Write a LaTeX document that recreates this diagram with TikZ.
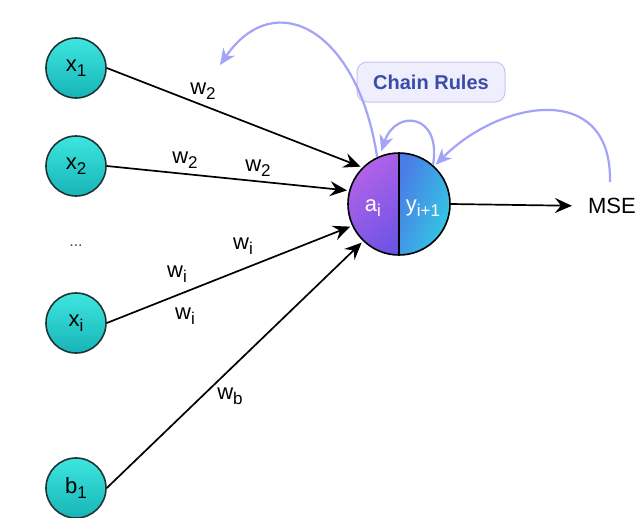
\documentclass[tikz,border=0pt]{standalone}
\usepackage{fontspec}
\setmainfont{Liberation Sans}
\usetikzlibrary{arrows.meta}

\definecolor{tealtop}{HTML}{3EE6DF}
\definecolor{tealbot}{HTML}{17B4B7}
\definecolor{inkdark}{HTML}{1F3535}
\definecolor{chainblue}{HTML}{A3A3F7}
\definecolor{boxfill}{HTML}{EEEEFD}
\definecolor{boxedge}{HTML}{C5C5F3}
\definecolor{boxtext}{HTML}{3A4BA8}
\definecolor{pA}{HTML}{B062E8}
\definecolor{pD}{HTML}{5C50E4}
\definecolor{bA}{HTML}{4A7CE6}
\definecolor{bD}{HTML}{32CAE3}

% lowered subscript in text font
\newcommand{\lsub}[1]{\raisebox{-5pt}{\fontsize{17}{17}\selectfont #1}}

\begin{document}
\begin{tikzpicture}[x=1pt,y=-1pt,
  inp/.style={circle,draw=inkdark,line width=1.6pt,minimum size=60pt,inner sep=0pt,
    top color=tealtop,bottom color=tealbot,font=\fontsize{22}{22}\selectfont},
  lbl/.style={font=\fontsize{22}{22}\selectfont,inner sep=0pt},
  wire/.style={line width=1.7pt,shorten >=2pt,-{Stealth[length=17pt,width=15pt,inset=6pt]}},
  chainarc/.style={draw=chainblue,line width=2.2pt,-{Stealth[length=16pt,width=14pt,inset=5pt]}},
]
\fill[white] (0,0) rectangle (637,517);
\useasboundingbox (0,0) rectangle (637,517);

% inputs
\node[inp] (x1) at (76,68) {x\lsub{1}};
\node[inp] (x2) at (76,166) {x\lsub{2}};
\node[lbl,font=\fontsize{16}{16}\selectfont,text=black!70] (dots) at (76,246) {...};
\node[inp] (xi) at (76,323) {x\lsub{i}};
\node[inp] (b1) at (76,488) {b\lsub{1}};

% neuron split into activation and output halves
\node[circle,draw,line width=1.6pt,minimum size=102pt,inner sep=0pt,
  path picture={
    \shade[top color=pA,bottom color=pD,shading angle=40]
      (path picture bounding box.north west) rectangle (path picture bounding box.south);
    \shade[left color=bA,right color=bD,shading angle=70]
      (path picture bounding box.north) rectangle (path picture bounding box.south east);
    \draw[line width=1.6pt] (path picture bounding box.north) -- (path picture bounding box.south);
  }] (n) at (399,204) {};
\node[lbl,text=white] (ai) at (373,208) {a\lsub{i}};
\node[lbl,text=white] (yo) at (423,208) {y\lsub{i+1}};

\node[lbl] (mse) at (612,206) {MSE};

% weighted inputs
\draw[wire] (x1.east) -- (n.135);
\draw[wire] (x2.east) -- (n.165);
\draw[wire] (xi.east) -- (n.205);
\draw[wire] (b1.east) -- (n.226);
\draw[wire,shorten >=16pt] (n.east) -- (mse.west);

% weight labels
\node[lbl] (w1) at (203,91) {w\lsub{2}};
\node[lbl] (w2a) at (185,160) {w\lsub{2}};
\node[lbl] (w2b) at (258,168) {w\lsub{2}};
\node[lbl] (wia) at (243,246) {w\lsub{i}};
\node[lbl] (wib) at (177,274) {w\lsub{i}};
\node[lbl] (wic) at (185,316) {w\lsub{i}};
\node[lbl] (wb) at (230,396) {w\lsub{b}};

% chain rule box
\node[draw=boxedge,fill=boxfill,line width=1pt,rounded corners=10pt,
  minimum width=148pt,minimum height=40pt,text=boxtext,
  font=\bfseries\fontsize{20}{20}\selectfont] (cr) at (431,82) {Chain Rules};

% backward arcs
\coordinate (back) at (220,65);
\coordinate (msetop) at (610,182);
\draw[chainarc] (n.115) .. controls (358,30) and (275,-15) .. (back);
\draw[chainarc,shorten >=2pt] (msetop) .. controls (612,80) and (500,100) .. (n.47);
\draw[chainarc,shorten >=5pt] (n.49) .. controls (442,114) and (396,108) .. (n.112);
\end{tikzpicture}
\end{document}
